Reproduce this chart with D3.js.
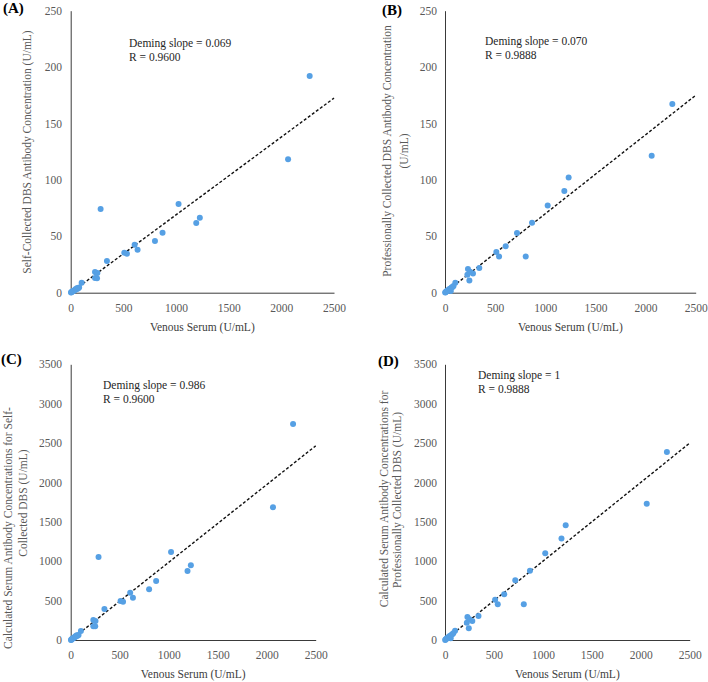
<!DOCTYPE html>
<html>
<head>
<meta charset="utf-8">
<script src="https://cdn.jsdelivr.net/npm/d3@7"></script>
<style>
  body { margin: 0; background: #fff; }
  svg text { font-family: "Liberation Serif", "Times New Roman", serif; }
</style>
</head>
<body>
<div id="app"></div>
<script>
// data

var xTicks = [0, 500, 1000, 1500, 2000, 2500]
var yTicksDbs = [0, 50, 100, 150, 200, 250]
var yTicksCalc = [0, 500, 1000, 1500, 2000, 2500, 3000, 3500]

// venous serum values (U/mL)
var venousSelf = [2269, 2064, 284, 1024, 1226, 1192, 872, 800, 607, 635, 509, 534, 344, 231, 253, 231, 250, 104,
  80, 70, 62, 55, 48, 40, 32, 25, 18, 12, 6, 3]
var venousPro = [2267, 2061, 1233, 1190, 1024, 868, 718, 605, 512, 539, 805, 342, 229, 223, 279, 250, 243, 103,
  85, 75, 65, 58, 50, 42, 35, 28, 20, 12, 6, 2]

// DBS antibody concentrations (U/mL)
var dbsSelf = [192.1, 118.2, 74.2, 78.6, 66.5, 61.8, 53.2, 45.8, 42.6, 38.1, 35.5, 34.6, 28.1, 18.3, 17.4, 13.0, 12.7, 8.9,
  4.5, 3.8, 4.2, 3.0, 3.3, 2.5, 2.0, 1.5, 1.2, 0.8, 0.3, 0.1]
var dbsPro = [167.3, 121.5, 102.2, 90.1, 77.4, 62.1, 52.9, 41.1, 36.1, 32.2, 32.2, 21.9, 21.0, 16.0, 17.1, 18.6, 10.9, 8.9,
  6, 5, 4.5, 1.5, 3.5, 3, 2.5, 2, 1.5, 1, 0.4, 0.1]

// calculated serum concentrations (U/mL)
var calcSelf = [2742, 1684, 1054, 1117, 948, 876, 749, 643, 601, 537, 495, 487, 394, 254, 241, 174, 174, 114,
  65, 55, 61, 43, 48, 36, 29, 22, 17, 12, 4, 1]
var calcPro = [2387, 1731, 1456, 1287, 1100, 880, 758, 580, 512, 453, 453, 305, 292, 220, 241, 262, 148, 118,
  86, 72, 64, 22, 50, 43, 36, 29, 21, 14, 6, 1]

var panelLabels = ['(A)', '(B)', '(C)', '(D)']
var demingSlopes = [0.069, 0.070, 0.986, 1]
var slopeLabels = ['0.069', '0.070', '0.986', '1']
var rLabels = ['0.9600', '0.9888', '0.9600', '0.9888']

var width = 708, height = 682
var dotColor = '#56a0e4'

var svg = d3.select('#app')
  .append('svg')
  .attr('width', width)
  .attr('height', height)

// layout of each panel
var panels = [
  { x: venousSelf, y: dbsSelf, yTicks: yTicksDbs, yMax: 250,
    left: 70.7, right: 334, top: 10.7, bottom: 292.7, labelRight: 62,
    tag: [3, 13], note: [129, 47], xLabelY: 310, xTitleY: 331,
    yTitle: [{ t: 'Self-Collected DBS Antibody Concentration (U/mL)', x: 27, y: 152 }] },
  { x: venousPro, y: dbsPro, yTicks: yTicksDbs, yMax: 250,
    left: 445, right: 695.7, top: 10.7, bottom: 292.7, labelRight: 437,
    tag: [382, 15], note: [485, 45], xLabelY: 310, xTitleY: 331,
    yTitle: [{ t: 'Professionally Collected DBS Antibody Concentration', x: 387, y: 151 },
             { t: '(U/mL)', x: 404, y: 151 }] },
  { x: venousSelf, y: calcSelf, yTicks: yTicksCalc, yMax: 3500,
    left: 70.7, right: 315.7, top: 364.3, bottom: 640, labelRight: 62,
    tag: [1, 364], note: [103, 389], xLabelY: 658, xTitleY: 678,
    yTitle: [{ t: 'Calculated Serum Antibody Concentrations for Self-', x: 8, y: 528 },
             { t: 'Collected DBS (U/mL)', x: 23, y: 503 }] },
  { x: venousPro, y: calcPro, yTicks: yTicksCalc, yMax: 3500,
    left: 445, right: 689.7, top: 364.3, bottom: 640, labelRight: 437,
    tag: [378, 366], note: [478, 379], xLabelY: 658, xTitleY: 678,
    yTitle: [{ t: 'Calculated Serum Antibody Concentrations for', x: 384, y: 499 },
             { t: 'Professionally Collected DBS (U/mL)', x: 397, y: 500 }] }
]

panels.forEach(function (p, i) {
  var x = d3.scaleLinear().domain([0, 2500]).range([p.left, p.right])
  var y = d3.scaleLinear().domain([0, p.yMax]).range([p.bottom, p.top])
  var g = svg.append('g')

  // axes
  var xAxis = g.append('g')
    .attr('transform', 'translate(0,' + p.bottom + ')')
    .call(d3.axisBottom(x).tickValues(xTicks).tickSize(0).tickPadding(11).tickFormat(d3.format('d')))
  var yAxis = g.append('g')
    .attr('transform', 'translate(' + p.left + ',0)')
    .call(d3.axisLeft(y).tickValues(p.yTicks).tickSize(0).tickPadding(p.left - p.labelRight).tickFormat(d3.format('d')))

  ;[xAxis, yAxis].forEach(function (a) {
    a.select('.domain').attr('stroke', '#3a3a3a').attr('stroke-width', 1)
    a.selectAll('text')
      .attr('fill', '#595959')
      .style('font-size', '11.5px')
      .style('font-family', '"Liberation Serif", serif')
  })

  // deming line
  var line = d3.line().x(function (d) { return x(d) }).y(function (d) { return y(d * demingSlopes[i]) })
  g.append('path')
    .attr('d', line([0, 2500]))
    .attr('stroke', '#111')
    .attr('stroke-width', 1.4)
    .attr('stroke-dasharray', '3,2')
    .attr('fill', 'none')

  // points
  g.selectAll('.dot')
    .data(p.x.map(function (v, k) { return [v, p.y[k]] }))
    .enter()
    .append('circle')
    .attr('class', 'dot')
    .attr('cx', function (d) { return x(d[0]) })
    .attr('cy', function (d) { return y(d[1]) })
    .attr('r', 3)
    .attr('fill', dotColor)

  // titles
  g.append('text')
    .attr('x', (p.left + p.right) / 2)
    .attr('y', p.xTitleY)
    .attr('text-anchor', 'middle')
    .attr('fill', '#404040')
    .style('font-size', '11.5px')
    .text('Venous Serum (U/mL)')

  p.yTitle.forEach(function (t) {
    g.append('text')
      .attr('transform', 'translate(' + t.x + ',' + t.y + ') rotate(-90)')
      .attr('text-anchor', 'middle')
      .attr('dy', '0.35em')
      .attr('fill', '#595959')
      .style('font-size', '11.5px')
      .text(t.t)
  })

  g.append('text')
    .attr('x', p.tag[0])
    .attr('y', p.tag[1])
    .attr('font-weight', 'bold')
    .attr('fill', '#000')
    .style('font-size', '15px')
    .text(panelLabels[i])

  g.append('text')
    .attr('x', p.note[0])
    .attr('y', p.note[1])
    .attr('fill', '#262626')
    .style('font-size', '11.5px')
    .text('Deming slope = ' + slopeLabels[i])
  g.append('text')
    .attr('x', p.note[0])
    .attr('y', p.note[1] + 14)
    .attr('fill', '#262626')
    .style('font-size', '11.5px')
    .text('R = ' + rLabels[i])
})
</script>
</body>
</html>
